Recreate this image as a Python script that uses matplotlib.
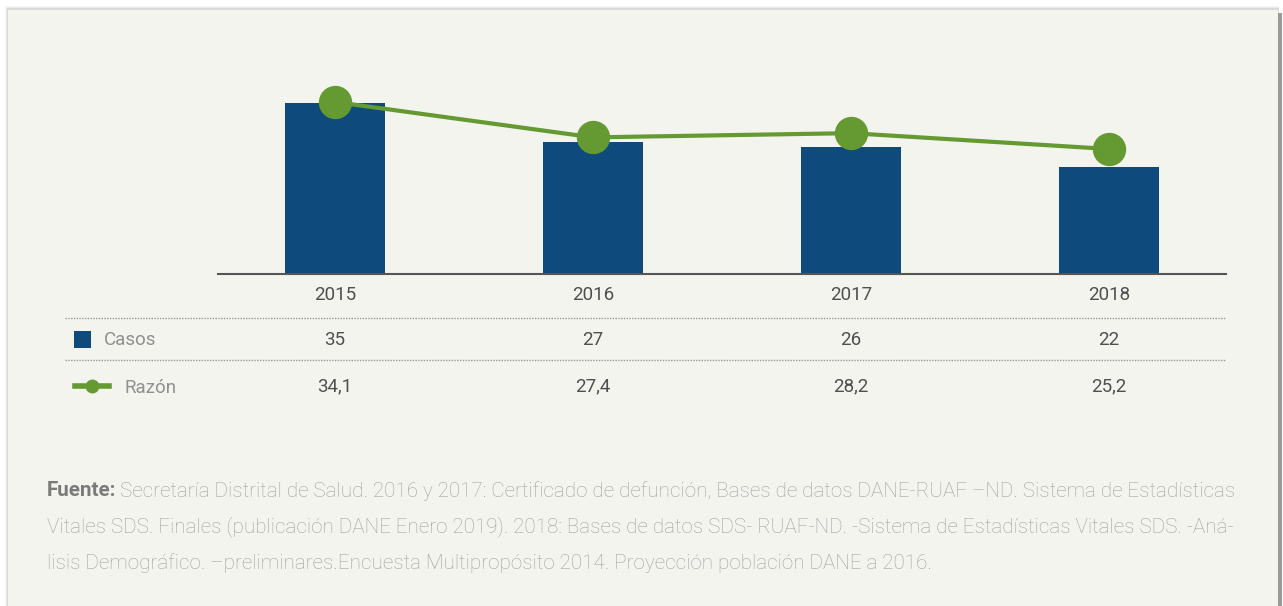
import matplotlib
matplotlib.use('Agg')
import matplotlib.pyplot as plt
import matplotlib.transforms as mtransforms
from matplotlib.patches import Rectangle
from matplotlib.lines import Line2D

plt.rcParams['font.family'] = ['Roboto', 'DejaVu Sans']

years = ['2015', '2016', '2017', '2018']
casos = [35, 27, 26, 22]
razon = [34.1, 27.4, 28.2, 25.2]
casos_labels = ['35', '27', '26', '22']
razon_labels = ['34,1', '27,4', '28,2', '25,2']
fuente_lines = [
    'Secretaría Distrital de Salud. 2016 y 2017: Certificado de defunción, Bases de datos DANE-RUAF –ND. Sistema de Estadísticas',
    'Vitales SDS. Finales (publicación DANE Enero 2019). 2018: Bases de datos SDS- RUAF-ND. -Sistema de Estadísticas Vitales SDS. -Aná-',
    'lisis Demográfico. –preliminares.Encuesta Multipropósito 2014. Proyección población DANE a 2016.',
]

BLUE = '#0e4a7c'
GREEN = '#659a32'
PANEL = '#f4f4ef'
W, H = 1283, 606


def fx(px):
    return px / W


def fy(py):
    return 1 - py / H


fig = plt.figure(figsize=(W / 100, H / 100), dpi=100)
fig.patch.set_facecolor('white')

# panel with a soft shadow
for i, a in enumerate([0.03, 0.05, 0.07]):
    fig.patches.append(Rectangle((fx(5 + i), fy(H + 5)), fx(1279 - 5 - i), fy(6 + i) - fy(H + 5),
                                 transform=fig.transFigure, facecolor='#000000', alpha=a,
                                 edgecolor='none', zorder=-10))
fig.patches.append(Rectangle((fx(1276), fy(H + 5)), fx(6), fy(13) - fy(H + 5),
                             transform=fig.transFigure, facecolor='#9a9a9a',
                             edgecolor='none', zorder=-9))
fig.patches.append(Rectangle((fx(8), fy(H + 5)), fx(1270), fy(10) - fy(H + 5),
                             transform=fig.transFigure, facecolor=PANEL,
                             edgecolor='none', zorder=-8))

ax = fig.add_axes([fx(218), fy(274), fx(1226 - 218), (274 - 60) / H])
ax.set_facecolor('none')
x = list(range(len(years)))
ax.bar(x, casos, width=0.388, color=BLUE, zorder=2)
ax.set_xlim(-0.4535, 3.4535)
ax.set_ylim(0, 214 / 4.873)
for s in ['top', 'right', 'left']:
    ax.spines[s].set_visible(False)
ax.spines['bottom'].set_color('#555555')
ax.spines['bottom'].set_linewidth(1.5)
ax.set_xticks([])
ax.set_yticks([])

ax2 = ax.twinx()
ax2.set_facecolor('none')
k = 5.28
y0 = 34.1 - 172 / k
ax2.set_ylim(y0, y0 + 214 / k)
ax2.plot(x, razon, color=GREEN, lw=3, marker='o', markersize=23, zorder=3)
ax2.axis('off')

# table under the chart
tr = mtransforms.blended_transform_factory(ax.transData, fig.transFigure)
for i in x:
    ax.text(i, fy(295), years[i], transform=tr, ha='center', va='center',
            fontsize=13.5, color='#4f4f4f', clip_on=False)
    ax.text(i, fy(340), casos_labels[i], transform=tr, ha='center', va='center',
            fontsize=13.5, color='#4f4f4f', clip_on=False)
    ax.text(i, fy(386), razon_labels[i], transform=tr, ha='center', va='center',
            fontsize=13.5, color='#4f4f4f', clip_on=False)

for py in [318, 360]:
    fig.lines.append(Line2D([fx(65), fx(1225)], [fy(py), fy(py)], transform=fig.transFigure,
                            color='#999999', lw=1, linestyle=(0, (1, 1))))

fig.patches.append(Rectangle((fx(74), fy(348)), fx(17), fy(331) - fy(348),
                             transform=fig.transFigure, facecolor=BLUE, edgecolor='none'))
fig.text(fx(104), fy(340), 'Casos', ha='left', va='center', fontsize=13.5, color='#909090')
fig.lines.append(Line2D([fx(75), fx(109)], [fy(386), fy(386)], transform=fig.transFigure,
                        color=GREEN, lw=4))
fig.lines.append(Line2D([fx(92)], [fy(386)], transform=fig.transFigure, color=GREEN,
                        marker='o', markersize=9, lw=0))
fig.text(fx(124), fy(388), 'Razón', ha='left', va='center', fontsize=13.5, color='#909090')

# source note
fs = 14.9
t = fig.text(fx(47), fy(491), 'Fuente:', ha='left', va='center', fontsize=fs,
             fontweight='bold', color='#7a7a7a')
fig.canvas.draw()
bb = t.get_window_extent()
fig.text(bb.x1 / W + fx(4), fy(491), fuente_lines[0], ha='left', va='center', fontsize=fs,
         color='#a0a0a0', fontweight='light')
fig.text(fx(47), fy(527), fuente_lines[1], ha='left', va='center', fontsize=fs,
         color='#a0a0a0', fontweight='light')
fig.text(fx(47), fy(563), fuente_lines[2], ha='left', va='center', fontsize=fs,
         color='#a0a0a0', fontweight='light')

fig.savefig('out.png', dpi=100, facecolor=fig.get_facecolor())
